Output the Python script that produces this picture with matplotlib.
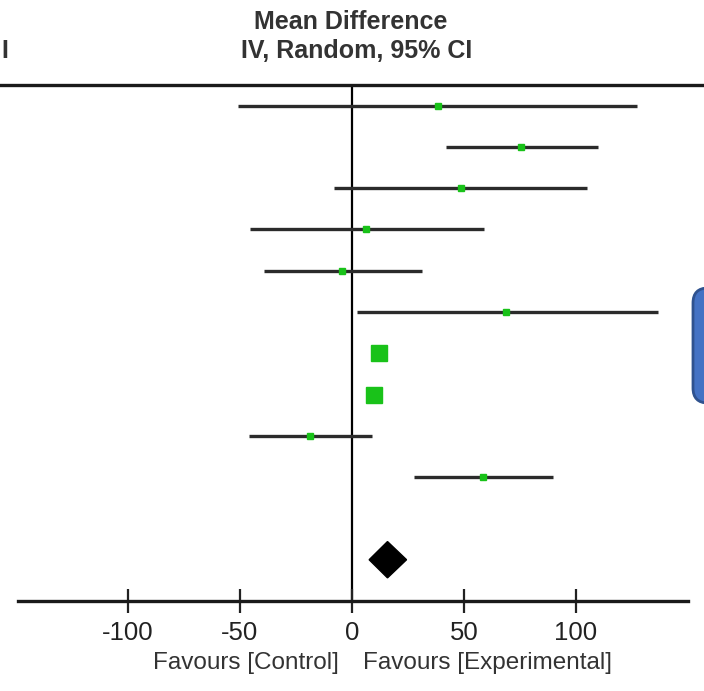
import matplotlib
matplotlib.use("Agg")
import matplotlib.pyplot as plt
from matplotlib.lines import Line2D
from matplotlib.patches import Polygon, FancyBboxPatch

plt.rcParams["font.family"] = ["Liberation Sans", "DejaVu Sans"]

# study estimates (mean difference and 95% CI), top to bottom
means = [38.3, 75.4, 48.7, 6.3, -4.2, 68.8, 12.2, 9.7, -18.6, 58.3]
lows = [-50.6, 42.0, -7.9, -45.4, -39.4, 2.2, 9.5, 7.0, -45.8, 27.8]
highs = [127.2, 109.7, 104.8, 58.8, 31.4, 136.5, 14.9, 12.4, 9.2, 89.6]
weights = [4, 4, 4, 4, 4, 4, 11.5, 11.5, 4, 4]

# pooled estimate
pooled_mean = 15.9
pooled_low = 7.7
pooled_high = 24.4

xticks = [-100, -50, 0, 50, 100]

fig = plt.figure(figsize=(7.04, 6.91), dpi=100)
ax = fig.add_axes([18 / 704, 1 - 601 / 691, 670 / 704, (601 - 85) / 691])

for i, (m, lo, hi, w) in enumerate(zip(means, lows, highs, weights)):
    ax.plot([lo, hi], [i, i], color="#2b2b2b", lw=2.4, solid_capstyle="butt", zorder=2)
    ax.plot(m, i, marker="s", ms=w, color="#19c219", mec="#19c219", zorder=3)

# pooled diamond
row_pooled = len(means) + 1
diamond = Polygon(
    [
        (pooled_low, row_pooled),
        (pooled_mean, row_pooled - 0.44),
        (pooled_high, row_pooled),
        (pooled_mean, row_pooled + 0.44),
    ],
    closed=True,
    facecolor="black",
    edgecolor="black",
    zorder=3,
)
ax.add_patch(diamond)

ax.axvline(0, color="black", lw=1.6, zorder=1)

ax.set_xlim(-149, 150)
ax.set_ylim(12, -0.5)
ax.set_yticks([])
for s in ["left", "right", "top"]:
    ax.spines[s].set_visible(False)
ax.spines["bottom"].set_linewidth(2.4)
ax.spines["bottom"].set_color("#1a1a1a")
ax.set_xticks(xticks)
ax.set_xticklabels([str(t) for t in xticks])
ax.tick_params(axis="x", direction="inout", length=17, width=1.6, pad=6,
               labelsize=18.5, colors="#222222")

# favours labels
ax.text(-6, -0.12, "Favours [Control]", transform=ax.get_xaxis_transform(),
        ha="right", va="center", fontsize=17.5, color="#333333")
ax.text(5, -0.12, "Favours [Experimental]", transform=ax.get_xaxis_transform(),
        ha="left", va="center", fontsize=17.5, color="#333333")

# header
fig.text(351 / 704, 1 - 22 / 691, "Mean Difference", ha="center", va="center",
         fontsize=18, fontweight="bold", color="#333333")
fig.text(357 / 704, 1 - 51 / 691, "IV, Random, 95% CI", ha="center", va="center",
         fontsize=18, fontweight="bold", color="#333333")
fig.text(1 / 704, 1 - 51 / 691, "I", ha="left", va="center",
         fontsize=18, fontweight="bold", color="#333333")
fig.add_artist(Line2D([0, 1], [1 - 85 / 691, 1 - 85 / 691], transform=fig.transFigure,
                      color="#1a1a1a", lw=2.4))

# partial blue box at right edge
box = FancyBboxPatch((6.93, 2.88), 0.5, 1.15, boxstyle="round,pad=0,rounding_size=0.15",
                     transform=fig.dpi_scale_trans, facecolor="#4472c4",
                     edgecolor="#2f528f", lw=2)
fig.patches.append(box)

fig.savefig("out.png", dpi=100)
